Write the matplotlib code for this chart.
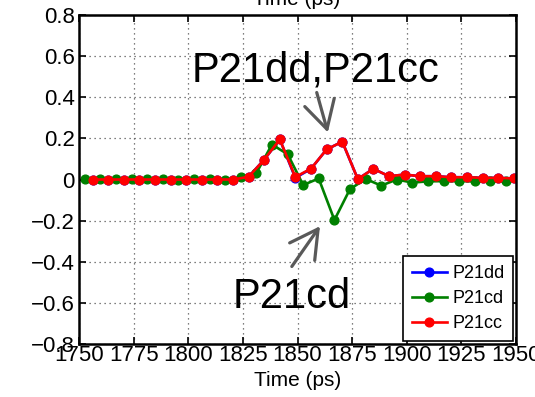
import matplotlib
matplotlib.use("Agg")
import matplotlib.pyplot as plt

plt.rcParams['font.family'] = ['Liberation Sans', 'DejaVu Sans']

# Sample times (ps) for the differential/common pair and the mixed-mode term
t_dd_cc = [1756.2, 1763.4, 1770.5, 1777.6, 1784.8, 1791.9, 1799.1, 1806.2,
           1813.3, 1820.5, 1827.6, 1834.8, 1841.9, 1849.0, 1856.2, 1863.3,
           1870.5, 1877.6, 1884.7, 1891.9, 1899.0, 1906.2, 1913.3, 1920.4,
           1927.6, 1934.7, 1941.9, 1949.0]
t_cd = [1752.6, 1759.8, 1766.9, 1774.1, 1781.2, 1788.3, 1795.5, 1802.6,
        1809.8, 1816.9, 1824.0, 1831.2, 1838.3, 1845.5, 1852.6, 1859.7,
        1866.9, 1874.0, 1881.2, 1888.3, 1895.4, 1902.6, 1909.7, 1916.9,
        1924.0, 1931.1, 1938.3, 1945.4]

p21dd = [0.0, 0.0, 0.0, 0.0, 0.0, 0.0, 0.0, 0.0,
         0.0, 0.0, 0.013, 0.097, 0.195, 0.008, 0.052, 0.146,
         0.184, 0.002, 0.052, 0.016, 0.024, 0.016, 0.016, 0.011,
         0.011, 0.008, 0.008, 0.005]
p21cd = [0.002, 0.001, 0.002, 0.001, 0.002, 0.001, 0.0, 0.003,
         0.003, -0.003, 0.010, 0.032, 0.170, 0.123, -0.027, 0.005,
         -0.197, -0.047, 0.003, -0.030, 0.0, -0.015, -0.009, -0.008,
         -0.008, -0.009, -0.008, -0.008]
p21cc = [0.0, 0.0, 0.0, 0.0, 0.0, 0.0, 0.0, 0.0,
         0.0, 0.0, 0.013, 0.097, 0.195, 0.012, 0.053, 0.146,
         0.184, 0.002, 0.052, 0.016, 0.024, 0.016, 0.016, 0.011,
         0.011, 0.008, 0.008, 0.005]

x_ticks = [1750, 1775, 1800, 1825, 1850, 1875, 1900, 1925, 1950]
y_ticks = [-0.8, -0.6, -0.4, -0.2, 0.0, 0.2, 0.4, 0.6, 0.8]
y_tick_labels = ['\u22120.8', '\u22120.6', '\u22120.4', '\u22120.2', '0',
                 '0.2', '0.4', '0.6', '0.8']

fig = plt.figure(figsize=(5.35, 3.97), dpi=100)
ax = fig.add_axes([79 / 535, 1 - 344 / 397, (516 - 79) / 535, (344 - 15) / 397])

line_kw = dict(lw=1.9, marker='o', ms=6.3)
ax.plot(t_dd_cc, p21dd, color='#0000ff', label='P21dd', **line_kw)
ax.plot(t_cd, p21cd, color='#008000', label='P21cd', **line_kw)
ax.plot(t_dd_cc, p21cc, color='#ff0000', label='P21cc', **line_kw)

ax.set_xlim(1750, 1950)
ax.set_ylim(-0.8, 0.8)
ax.set_xticks(x_ticks)
ax.set_xticklabels([str(v) for v in x_ticks])
ax.set_yticks(y_ticks)
ax.set_yticklabels(y_tick_labels)
ax.tick_params(direction='in', length=5, width=1.2, top=True, right=True,
               labelsize=16, pad=3, colors='black')
ax.tick_params(axis='x', pad=1)
for s in ax.spines.values():
    s.set_linewidth(1.8)
ax.grid(True, ls=(0, (1, 3)), color='#555555', lw=0.9)
ax.set_axisbelow(True)
ax.set_xlabel('Time (ps)', fontsize=15, labelpad=3)

# Title-position axis caption, partly above the canvas
fig.text(297 / 535, 1 - 5 / 397, 'Time (ps)', fontsize=15, ha='center',
         va='baseline')

leg = ax.legend(loc='lower right', fontsize=13, frameon=True, fancybox=False,
                borderaxespad=0.15, handlelength=1.9, handletextpad=0.3,
                labelspacing=0.45, borderpad=0.5, framealpha=1)
leg.get_frame().set_edgecolor('black')
leg.get_frame().set_linewidth(1.2)

# Callouts
ax.text(1801.5, 0.477, 'P21dd,P21cc', fontsize=30, ha='left', va='baseline')
ax.text(1820.5, -0.623, 'P21cd', fontsize=30, ha='left', va='baseline')

arrow_kw = dict(arrowstyle='->,head_length=1.0,head_width=0.55',
                mutation_scale=20, color='#595959', lw=2.3,
                shrinkA=0, shrinkB=0)
ax.annotate('', xy=(1863.9, 0.229), xytext=(1858.8, 0.423),
            arrowprops=arrow_kw)
ax.annotate('', xy=(1860.3, -0.227), xytext=(1847.4, -0.423),
            arrowprops=arrow_kw)

fig.savefig('out.png', dpi=100)
